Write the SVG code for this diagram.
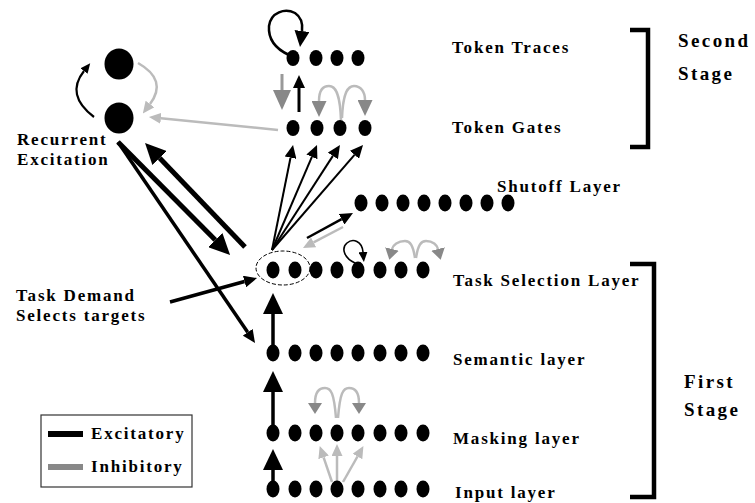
<svg xmlns="http://www.w3.org/2000/svg" width="755" height="503" viewBox="0 0 755 503">
<style>
.lbl{font-family:"Liberation Serif","Times New Roman",serif;font-weight:bold;font-size:17px;letter-spacing:1.8px;fill:#000}
.big{font-size:19px;letter-spacing:2.4px}
.dot{fill:#000}
.k{fill:none;stroke:#000}
.g{fill:none;stroke:#bbb;stroke-width:2.5}
.gd{fill:none;stroke:#999;stroke-width:3}
.br{fill:none;stroke:#000;stroke-width:4.5}
</style>
<defs>
<marker id="mBig" viewBox="0 0 21 20" refX="0" refY="10" markerWidth="21" markerHeight="20" markerUnits="userSpaceOnUse" orient="auto"><path d="M0,0 L21,10 L0,20 z" fill="#000"/></marker>
<marker id="mMid" viewBox="0 0 13 12" refX="0" refY="6" markerWidth="13" markerHeight="12" markerUnits="userSpaceOnUse" orient="auto"><path d="M0,0 L13,6 L0,12 z" fill="#000"/></marker>
<marker id="mLoop" viewBox="0 0 16 15" refX="0" refY="7.5" markerWidth="16" markerHeight="15" markerUnits="userSpaceOnUse" orient="auto"><path d="M0,0 L16,7.5 L0,15 z" fill="#000"/></marker>
<marker id="mSmall" viewBox="0 0 10 9" refX="0" refY="4.5" markerWidth="10" markerHeight="9" markerUnits="userSpaceOnUse" orient="auto"><path d="M0,0 L10,4.5 L0,9 z" fill="#000"/></marker>
<marker id="mGL" viewBox="0 0 12 11" refX="0" refY="5.5" markerWidth="12" markerHeight="11" markerUnits="userSpaceOnUse" orient="auto"><path d="M0,0 L12,5.5 L0,11 z" fill="#bbb"/></marker>
<marker id="mGD" viewBox="0 0 16 15" refX="0" refY="7.5" markerWidth="16" markerHeight="15" markerUnits="userSpaceOnUse" orient="auto"><path d="M0,0 L16,7.5 L0,15 z" fill="#888"/></marker>
<marker id="mGDs" viewBox="0 0 11 14" refX="0" refY="7" markerWidth="11" markerHeight="14" markerUnits="userSpaceOnUse" orient="auto"><path d="M0,0 L11,7 L0,14 z" fill="#888"/></marker>
<marker id="mGDb" viewBox="0 0 20 18" refX="0" refY="9" markerWidth="20" markerHeight="18" markerUnits="userSpaceOnUse" orient="auto"><path d="M0,0 L20,9 L0,18 z" fill="#888"/></marker>
</defs>

<g id="connectors">
<path class="k" stroke-width="2.5" d="M289,55 C276,49 268,40 269,26 C271,12 285,8 295,13 C301,17 303,23 302,31" marker-end="url(#mLoop)"/>
<line class="k" stroke-width="3" x1="299" y1="112" x2="299" y2="88" marker-end="url(#mMid)"/>
<line class="gd" x1="282" y1="74" x2="282" y2="90" marker-end="url(#mGDb)"/>
<path class="g" d="M341,120 C340,92 335,86 329,86 C322,86 319,92 319,101" marker-end="url(#mGD)"/>
<path class="g" d="M342,118 C343,92 348,86 354,86 C361,86 365,92 365,100" marker-end="url(#mGD)"/>
<line class="g" x1="278" y1="130" x2="160.9" y2="118.3" marker-end="url(#mGL)"/>
<path class="k" stroke-width="2.2" d="M94,117 Q65,95 84,71" marker-end="url(#mSmall)"/>
<path class="g" d="M138,63 Q168,80 150,104" marker-end="url(#mGL)"/>
<line class="k" stroke-width="5" x1="118" y1="142" x2="215.3" y2="240.1" marker-end="url(#mBig)"/>
<line class="k" stroke-width="5" x1="245" y1="247" x2="159.6" y2="158.1" marker-end="url(#mBig)"/>
<line class="k" stroke-width="3.5" x1="118" y1="142" x2="247.7" y2="332.3" marker-end="url(#mMid)"/>
<line class="k" stroke-width="3.5" x1="170" y1="302" x2="244.5" y2="281.5" marker-end="url(#mMid)"/>
<line class="k" stroke-width="2" x1="272" y1="250" x2="290.5" y2="157.7" marker-end="url(#mMid)"/>
<line class="k" stroke-width="2" x1="272" y1="250" x2="311.9" y2="156.9" marker-end="url(#mMid)"/>
<line class="k" stroke-width="2" x1="272" y1="250" x2="332.9" y2="155.9" marker-end="url(#mMid)"/>
<line class="k" stroke-width="2" x1="272" y1="250" x2="354.5" y2="154.8" marker-end="url(#mMid)"/>
<line class="k" stroke-width="2.5" x1="307" y1="238" x2="341.6" y2="219.2" marker-end="url(#mMid)"/>
<line class="g" x1="343" y1="227" x2="313.6" y2="242.4" marker-end="url(#mGL)"/>
<path class="k" stroke-width="1.6" d="M355,263 C344,258 341,248 347,243 C353,238 362,241 363,252" marker-end="url(#mSmall)"/>
<path class="g" d="M415,258 C413,245 410,241 405,241 C398,241 393,245 392,249" marker-end="url(#mGDs)"/>
<path class="g" d="M416,258 C418,245 421,241 426,241 C433,241 437,245 438,249" marker-end="url(#mGDs)"/>
<line class="k" stroke-width="3.5" x1="273" y1="346" x2="273" y2="314" marker-end="url(#mBig)"/>
<line class="k" stroke-width="3.5" x1="273" y1="428" x2="273" y2="392" marker-end="url(#mBig)"/>
<line class="k" stroke-width="3.5" x1="273" y1="485" x2="273" y2="470" marker-end="url(#mBig)"/>
<path class="g" d="M336,418 C334,393 331,388 325,388 C318,388 315,394 315,403" marker-end="url(#mGDs)"/>
<path class="g" d="M338,418 C340,393 343,388 349,388 C356,388 359,394 359,403" marker-end="url(#mGDs)"/>
<line class="g" x1="332" y1="482" x2="323.6" y2="457.4" marker-end="url(#mGL)"/>
<line class="g" x1="337" y1="482" x2="337" y2="456" marker-end="url(#mGL)"/>
<line class="g" x1="343" y1="482" x2="357.5" y2="456.5" marker-end="url(#mGL)"/>
</g>

<g id="token-traces">
<ellipse class="dot" cx="293" cy="58" rx="6.5" ry="8"/><ellipse class="dot" cx="316" cy="58" rx="6.5" ry="8"/><ellipse class="dot" cx="337" cy="58" rx="6.5" ry="8"/><ellipse class="dot" cx="358" cy="58" rx="6.5" ry="8"/>
<text class="lbl" x="452" y="53">Token Traces</text>
</g>
<g id="token-gates">
<ellipse class="dot" cx="293" cy="128" rx="6.5" ry="8"/><ellipse class="dot" cx="317" cy="128" rx="6.5" ry="8"/><ellipse class="dot" cx="340" cy="128" rx="6.5" ry="8"/><ellipse class="dot" cx="365" cy="128" rx="6.5" ry="8"/>
<text class="lbl" x="452" y="133">Token Gates</text>
</g>
<g id="second-stage">
<path class="br" d="M630,30 L648,30 L648,147 L630,147"/>
<text class="lbl big" x="678" y="47">Second</text>
<text class="lbl big" x="678" y="80">Stage</text>
</g>
<g id="recurrent-excitation">
<ellipse class="dot" cx="119" cy="64" rx="14.5" ry="15.5"/>
<ellipse class="dot" cx="119" cy="118" rx="14.5" ry="15.5"/>
<text class="lbl" x="17" y="145">Recurrent</text>
<text class="lbl" x="17" y="165">Excitation</text>
</g>
<g id="shutoff-layer">
<ellipse class="dot" cx="361" cy="203" rx="6.5" ry="8.5"/><ellipse class="dot" cx="382" cy="203" rx="6.5" ry="8.5"/><ellipse class="dot" cx="403" cy="203" rx="6.5" ry="8.5"/><ellipse class="dot" cx="424" cy="203" rx="6.5" ry="8.5"/><ellipse class="dot" cx="445" cy="203" rx="6.5" ry="8.5"/><ellipse class="dot" cx="466" cy="203" rx="6.5" ry="8.5"/><ellipse class="dot" cx="487" cy="203" rx="6.5" ry="8.5"/><ellipse class="dot" cx="508" cy="203" rx="6.5" ry="8.5"/>
<text class="lbl" x="497" y="192">Shutoff Layer</text>
</g>
<g id="task-selection-layer">
<ellipse cx="283" cy="268" rx="27" ry="17" fill="none" stroke="#000" stroke-width="1" stroke-dasharray="4,2"/>
<ellipse class="dot" cx="273" cy="270" rx="6.5" ry="8.5"/><ellipse class="dot" cx="295" cy="270" rx="6.5" ry="8.5"/><ellipse class="dot" cx="316" cy="270" rx="6.5" ry="8.5"/><ellipse class="dot" cx="337" cy="270" rx="6.5" ry="8.5"/><ellipse class="dot" cx="358" cy="270" rx="6.5" ry="8.5"/><ellipse class="dot" cx="380" cy="270" rx="6.5" ry="8.5"/><ellipse class="dot" cx="401" cy="270" rx="6.5" ry="8.5"/><ellipse class="dot" cx="423" cy="270" rx="6.5" ry="8.5"/>
<text class="lbl" x="453" y="286">Task Selection Layer</text>
</g>
<g id="task-demand">
<text class="lbl" x="16" y="301">Task Demand</text>
<text class="lbl" x="16" y="321">Selects targets</text>
</g>
<g id="semantic-layer">
<ellipse class="dot" cx="273" cy="353" rx="6.5" ry="8.5"/><ellipse class="dot" cx="295" cy="353" rx="6.5" ry="8.5"/><ellipse class="dot" cx="316" cy="353" rx="6.5" ry="8.5"/><ellipse class="dot" cx="337" cy="353" rx="6.5" ry="8.5"/><ellipse class="dot" cx="358" cy="353" rx="6.5" ry="8.5"/><ellipse class="dot" cx="380" cy="353" rx="6.5" ry="8.5"/><ellipse class="dot" cx="401" cy="353" rx="6.5" ry="8.5"/><ellipse class="dot" cx="423" cy="353" rx="6.5" ry="8.5"/>
<text class="lbl" x="453" y="365">Semantic layer</text>
</g>
<g id="masking-layer">
<ellipse class="dot" cx="273" cy="433" rx="6.5" ry="8.5"/><ellipse class="dot" cx="295" cy="433" rx="6.5" ry="8.5"/><ellipse class="dot" cx="316" cy="433" rx="6.5" ry="8.5"/><ellipse class="dot" cx="337" cy="433" rx="6.5" ry="8.5"/><ellipse class="dot" cx="358" cy="433" rx="6.5" ry="8.5"/><ellipse class="dot" cx="380" cy="433" rx="6.5" ry="8.5"/><ellipse class="dot" cx="401" cy="433" rx="6.5" ry="8.5"/><ellipse class="dot" cx="423" cy="433" rx="6.5" ry="8.5"/>
<text class="lbl" x="453" y="444">Masking layer</text>
</g>
<g id="input-layer">
<ellipse class="dot" cx="273" cy="489" rx="6.5" ry="8.5"/><ellipse class="dot" cx="295" cy="489" rx="6.5" ry="8.5"/><ellipse class="dot" cx="316" cy="489" rx="6.5" ry="8.5"/><ellipse class="dot" cx="337" cy="489" rx="6.5" ry="8.5"/><ellipse class="dot" cx="358" cy="489" rx="6.5" ry="8.5"/><ellipse class="dot" cx="380" cy="489" rx="6.5" ry="8.5"/><ellipse class="dot" cx="401" cy="489" rx="6.5" ry="8.5"/><ellipse class="dot" cx="423" cy="489" rx="6.5" ry="8.5"/>
<text class="lbl" x="455" y="498">Input layer</text>
</g>
<g id="first-stage">
<path class="br" d="M630,264 L654,264 L654,497 L630,497"/>
<text class="lbl big" x="684" y="388">First</text>
<text class="lbl big" x="684" y="416">Stage</text>
</g>
<g id="legend">
<rect x="41" y="415" width="151" height="72" fill="#fff" stroke="#333" stroke-width="1.2"/>
<line x1="48" y1="434" x2="83" y2="434" stroke="#000" stroke-width="6"/>
<line x1="48" y1="467" x2="83" y2="467" stroke="#888" stroke-width="6"/>
<text class="lbl" x="91" y="439">Excitatory</text>
<text class="lbl" x="91" y="472">Inhibitory</text>
</g>
</svg>
